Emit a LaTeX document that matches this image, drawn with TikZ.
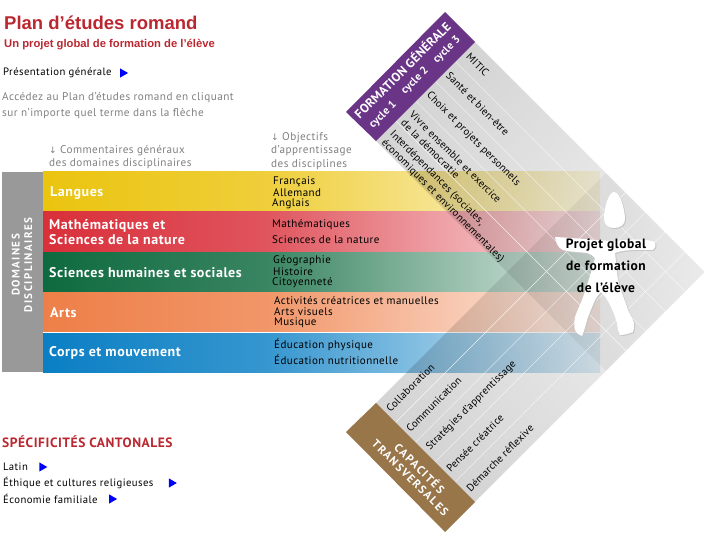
\documentclass[tikz,border=0pt]{standalone}
\usepackage{fontspec}
\usepackage{xcolor}
\usepackage{tikz}
\usetikzlibrary{shapes,shadows,positioning}
\setmainfont{PT Sans}
\newfontfamily\tsHeadFont{Liberation Sans}
\newfontfamily\tsBodyFont[LetterSpace=4]{PT Sans}
\newfontfamily\tsStripFont[LetterSpace=2]{PT Sans}
\newfontfamily\tsWideFont[LetterSpace=13]{PT Sans}
\newfontfamily\tsArrowFont{DejaVu Sans}
\newcommand{\tsDown}{{\tsArrowFont\fontsize{9}{9}\selectfont ↓}}

\definecolor{cLangues}{HTML}{EBC40F}
\definecolor{cMaths}{HTML}{D92F3A}
\definecolor{cHumaines}{HTML}{0E6A3F}
\definecolor{cArts}{HTML}{EE7F48}
\definecolor{cCorps}{HTML}{0A7FC4}
\definecolor{cTitle}{HTML}{BB2730}
\definecolor{cGreyText}{HTML}{808080}
\definecolor{cPurple}{HTML}{6B3587}
\definecolor{cBrown}{HTML}{99754A}

\foreach \c in {cLangues,cMaths,cHumaines,cArts,cCorps}{
  \pgfdeclarehorizontalshading{sh\c}{100bp}{color(0bp)=(\c); color(25bp)=(\c); color(45bp)=(\c!82!white); color(61bp)=(\c!45!white); color(75bp)=(\c!12!white); color(100bp)=(\c!12!white)}
}

\tikzstyle{tsBar} = [
    rectangle,
    minimum width=557pt,
    minimum height=39pt,
    inner sep=0pt
]
\tikzstyle{tsArm} = [
    left color=black!17,
    right color=black!4
]
\tikzstyle{tsRule} = [
    white,
    line width=0.4pt,
    opacity=0.8
]
\tikzstyle{tsBarLabel} = [
    anchor=west,
    text=white,
    inner sep=0pt,
    align=left,
    yshift=-0.7pt,
    font=\tsBodyFont\bfseries\fontsize{14}{15}\selectfont
]
\tikzstyle{tsSubject} = [
    anchor=west,
    text=black,
    inner sep=0pt,
    yshift=-1pt,
    font=\tsBodyFont\fontsize{11}{11}\selectfont
]
\tikzstyle{tsNote} = [
    anchor=west,
    text=cGreyText,
    inner sep=0pt,
    align=left,
    yshift=-1.5pt,
    font=\tsBodyFont\fontsize{11.2}{13.5}\selectfont
]
\tikzstyle{tsLink} = [
    anchor=west,
    text=black,
    inner sep=0pt,
    yshift=-1pt,
    font=\tsBodyFont\fontsize{10.7}{11}\selectfont
]
\tikzstyle{tsPlay} = [
    isosceles triangle,
    isosceles triangle apex angle=60,
    fill=blue,
    inner sep=0pt,
    minimum size=8pt
]
\tikzstyle{tsStrip} = [
    anchor=west,
    text=black,
    inner sep=0pt,
    align=left,
    font=\tsStripFont\fontsize{10.5}{12}\selectfont
]
\tikzstyle{tsBand} = [
    text=white,
    inner sep=0pt,
    align=center,
    font=\tsStripFont\bfseries\fontsize{12.5}{13}\selectfont
]
\tikzstyle{tsCycle} = [
    tsBand,
    rotate=45,
    font=\tsStripFont\bfseries\fontsize{11}{12}\selectfont
]

\newcommand{\tsHeadPath}{(614,192) .. controls (621,192) and (625,212) .. (625,219) .. controls (625,225) and (620,228) .. (614,228) .. controls (608,228) and (604,225) .. (604,218) .. controls (604,210) and (608,192) .. (614,192) -- cycle}
\newcommand{\tsBodyPath}{(555,237) .. controls (575,238) and (595,240) .. (610,241) .. controls (622,241) and (640,237) .. (655,242) .. controls (656,246) and (655,249) .. (653,250) .. controls (642,250) and (625,249) .. (615,253) .. controls (616,262) and (617,268) .. (617,273) .. controls (618,285) and (625,300) .. (628,310) .. controls (630,315) and (633,318) .. (634,323) .. controls (634,327) and (634,330) .. (633,332) .. controls (628,334) and (624,335) .. (620,335) .. controls (618,330) and (617,327) .. (617,323) .. controls (615,315) and (608,298) .. (601,292) .. controls (598,295) and (597,297) .. (595,300) .. controls (592,307) and (590,312) .. (588,317) .. controls (586,323) and (584,332) .. (582,336) .. controls (578,334) and (576,333) .. (575,330) .. controls (574,326) and (574,322) .. (575,317) .. controls (577,311) and (580,305) .. (582,300) .. controls (585,292) and (592,270) .. (595,258) .. controls (593,255) and (590,254) .. (587,253) .. controls (580,252) and (570,252) .. (563,250) .. controls (558,248) and (556,243) .. (555,237) -- cycle}

\begin{document}
\begin{tikzpicture}[x=1pt, y=-1pt]
        \useasboundingbox (0,0) rectangle (720,540);

        % Heading
        \node[anchor=west, inner sep=0pt, text=cTitle, font=\tsHeadFont\bfseries\fontsize{18.5}{20}\selectfont] (title) at (4,23) {Plan d’études romand};
        \node[anchor=west, inner sep=0pt, text=cTitle, font=\tsHeadFont\bfseries\fontsize{11.25}{13}\selectfont] (subtitle) at (4,45) {Un projet global de formation de l’élève};
        \node[tsLink] (pres) at (3,72) {Présentation générale};
        \node[tsPlay, right=8pt of pres] (presPlay) {};
        \node[tsNote, font=\tsBodyFont\fontsize{11.2}{16}\selectfont] (intro) at (2,104) {Accédez au Plan d’études romand en cliquant\\sur n’importe quel terme dans la flèche};

        % Column notes
        \node[tsNote] (noteComm) at (49,155.5) {\tsDown{} Commentaires généraux\\des domaines disciplinaires};
        \node[tsNote] (noteObj) at (271,149.5) {\tsDown{} Objectifs\\d’apprentissage\\des disciplines};

        % Bars
        \node[tsBar, shading=shcLangues] (barLangues) at (321.5,191.5) {};
        \node[tsBar, shading=shcMaths] (barMaths) at (321.5,231.5) {};
        \node[tsBar, shading=shcHumaines] (barHumaines) at (321.5,271.5) {};
        \node[tsBar, shading=shcArts] (barArts) at (321.5,312) {};
        \node[tsBar, shading=shcCorps] (barCorps) at (321.5,352.5) {};

        % Arrow arms
        \begin{scope}[blend mode=multiply]
            \begin{scope}[transform canvas={shift={(376,141)}, rotate=-45}]
                \path[tsArm] (0,0) rectangle (325,-140);
            \end{scope}
            \begin{scope}[transform canvas={shift={(376,403)}, rotate=45}]
                \path[tsArm] (0,0) rectangle (325,140);
            \end{scope}
        \end{scope}
        \foreach \i in {0,...,3} {
            \draw[tsRule] ({396+19.8*\i},{121-19.8*\i}) -- ({626+19.8*\i},{351-19.8*\i});
            \draw[tsRule] ({396+19.8*\i},{422+19.8*\i}) -- ({625.5+19.8*\i},{192.5+19.8*\i});
        }

        % Side box
        \node[rectangle, fill=black!40, minimum width=41pt, minimum height=200pt, inner sep=0pt] (sideBox) at (22.5,272) {};
        \node[tsBand, rotate=90, font=\tsWideFont\bfseries\fontsize{11}{12.5}\selectfont] (sideLabel) at (22,265) {DOMAINES\\DISCIPLINAIRES};

        % Bar labels
        \node[tsBarLabel] (lblLangues) at (50,192) {Langues};
        \node[tsBarLabel] (lblMaths) at (49,231.5) {Mathématiques et\\Sciences de la nature};
        \node[tsBarLabel] (lblHumaines) at (49,272) {Sciences humaines et sociales};
        \node[tsBarLabel] (lblArts) at (50,312) {Arts};
        \node[tsBarLabel] (lblCorps) at (49,352) {Corps et mouvement};

        % Subjects
        \node[tsSubject] (s11) at (273,181) {Français};
        \node[tsSubject] (s12) at (273,192) {Allemand};
        \node[tsSubject] (s13) at (272,203) {Anglais};
        \node[tsSubject] (s21) at (272,224) {Mathématiques};
        \node[tsSubject] (s22) at (272,239) {Sciences de la nature};
        \node[tsSubject] (s31) at (273,260) {Géographie};
        \node[tsSubject] (s32) at (273,271) {Histoire};
        \node[tsSubject] (s33) at (272,282) {Citoyenneté};
        \node[tsSubject] (s41) at (274,300) {Activités créatrices et manuelles};
        \node[tsSubject] (s42) at (274,311) {Arts visuels};
        \node[tsSubject] (s43) at (274,322) {Musique};
        \node[tsSubject] (s51) at (274,344) {Éducation physique};
        \node[tsSubject] (s52) at (274,359) {Éducation nutritionnelle};

        % Header bands
        \fill[cPurple] (445,12) -- (346,112) -- (376,141) -- (475,42) -- cycle;
        \fill[cBrown] (376,403) -- (346,432) -- (445,532) -- (475,502) -- cycle;
        \node[tsBand, rotate=45] (bandForm) at (402,70) {FORMATION GÉNÉRALE};
        \node[tsCycle] (cycleA) at (383,115) {cycle 1};
        \node[tsCycle] (cycleB) at (415,81) {cycle 2};
        \node[tsCycle] (cycleC) at (447,50) {cycle 3};
        \node[tsBand, rotate=-45, font=\tsWideFont\bfseries\fontsize{11.5}{13}\selectfont] (bandCap) at (415.5,472.5) {CAPACITÉS\\TRANSVERSALES};

        % Strip labels
        \node[tsStrip, rotate=-45] (mitic) at (468,55) {MITIC};
        \node[tsStrip, rotate=-45] (sante) at (448,74) {Santé et bien-être};
        \node[tsStrip, rotate=-45] (choix) at (428,94) {Choix et projets personnels};
        \node[tsStrip, rotate=-45] (vivre) at (407,117) {Vivre ensemble et exercice\\de la démocratie};
        \node[tsStrip, rotate=-45] (inter) at (387,137) {Interdépendances (sociales,\\économiques et environnementales)};
        \node[tsStrip, rotate=45] (collab) at (388,410) {Collaboration};
        \node[tsStrip, rotate=45] (commu) at (408,430) {Communication};
        \node[tsStrip, rotate=45] (strat) at (428,449) {Stratégies d’apprentissage};
        \node[tsStrip, rotate=45] (pensee) at (448,470) {Pensée créatrice};
        \node[tsStrip, rotate=45] (demarche) at (468,490) {Démarche réflexive};

        % Figure
        \begin{scope}[shift={(1,1)}]
            \fill[black!22] \tsHeadPath;
            \fill[black!22] \tsBodyPath;
        \end{scope}
        \fill[white] \tsHeadPath;
        \fill[white] \tsBodyPath;
        \node[inner sep=0pt, align=center, text=black, font=\tsBodyFont\bfseries\fontsize{13.5}{22}\selectfont] (projet) at (606,266) {Projet global\\de formation\\de l’élève};

        % Cantonal list
        \node[anchor=west, inner sep=0pt, text=cTitle, font=\tsBodyFont\bfseries\fontsize{13.5}{15}\selectfont] (canton) at (2,442) {SPÉCIFICITÉS CANTONALES};
        \node[tsLink] (latin) at (3,466) {Latin};
        \node[tsPlay, right=11pt of latin] (latinPlay) {};
        \node[tsLink] (ethique) at (3,482) {Éthique et cultures religieuses};
        \node[tsPlay, right=15pt of ethique] (ethiquePlay) {};
        \node[tsLink] (eco) at (3,498) {Économie familiale};
        \node[tsPlay, right=11pt of eco] (ecoPlay) {};
\end{tikzpicture}
\end{document}
